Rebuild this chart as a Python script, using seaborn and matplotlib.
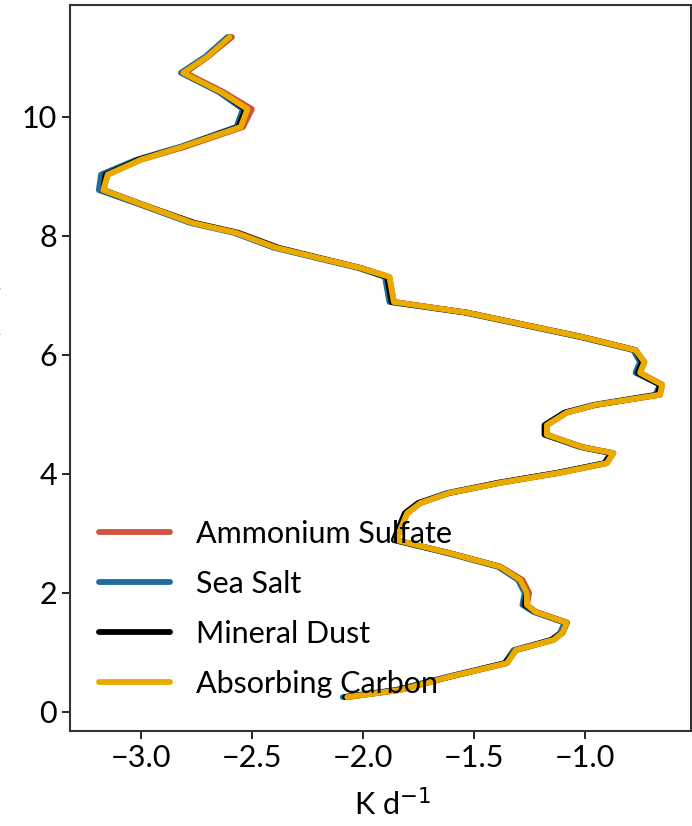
import numpy as np
import pandas as pd
import matplotlib
matplotlib.use('Agg')
import matplotlib.pyplot as plt
import seaborn as sns

# altitude levels (km)
altitude = [11.34, 11.01, 10.74, 10.42, 10.13, 9.83, 9.50, 9.28, 9.03, 8.77,
            8.52, 8.22, 8.05, 7.80, 7.46, 7.31, 6.89, 6.71, 6.30, 6.08,
            5.88, 5.70, 5.50, 5.33, 5.16, 5.03, 4.82, 4.66, 4.45, 4.35,
            4.18, 4.02, 3.85, 3.68, 3.51, 3.34, 2.89, 2.67, 2.44, 2.22,
            2.00, 1.80, 1.68, 1.50, 1.33, 1.21, 1.04, 0.82, 0.59, 0.37, 0.25]

# heating rates (K/day) for each aerosol type
ammonium_sulfate = [-2.59, -2.70, -2.80, -2.63, -2.50, -2.54, -2.80, -3.00, -3.15, -3.17,
                    -2.99, -2.77, -2.57, -2.39, -2.01, -1.88, -1.86, -1.53, -1.01, -0.77,
                    -0.73, -0.75, -0.65, -0.66, -0.95, -1.08, -1.17, -1.17, -1.01, -0.87,
                    -0.90, -1.11, -1.38, -1.61, -1.74, -1.80, -1.85, -1.61, -1.38, -1.28,
                    -1.25, -1.26, -1.22, -1.08, -1.10, -1.14, -1.31, -1.35, -1.61, -1.83, -2.07]
sea_salt = [-2.61, -2.71, -2.82, -2.65, -2.54, -2.57, -2.82, -3.02, -3.18, -3.19,
            -3.00, -2.78, -2.58, -2.40, -2.02, -1.90, -1.88, -1.54, -1.02, -0.78,
            -0.75, -0.77, -0.66, -0.68, -0.96, -1.09, -1.18, -1.18, -1.02, -0.88,
            -0.91, -1.12, -1.39, -1.62, -1.75, -1.81, -1.86, -1.62, -1.39, -1.30,
            -1.27, -1.28, -1.23, -1.09, -1.11, -1.15, -1.32, -1.36, -1.62, -1.85, -2.09]
mineral_dust = [-2.60, -2.70, -2.81, -2.64, -2.53, -2.56, -2.81, -3.01, -3.16, -3.17,
                -2.99, -2.76, -2.56, -2.38, -2.01, -1.89, -1.87, -1.53, -1.01, -0.77,
                -0.74, -0.76, -0.66, -0.67, -0.95, -1.09, -1.18, -1.18, -1.01, -0.88,
                -0.91, -1.12, -1.39, -1.61, -1.75, -1.81, -1.86, -1.61, -1.38, -1.29,
                -1.26, -1.27, -1.22, -1.08, -1.10, -1.15, -1.31, -1.36, -1.61, -1.84, -2.08]
absorbing_carbon = [-2.60, -2.70, -2.81, -2.64, -2.52, -2.55, -2.81, -3.00, -3.15, -3.17,
                    -2.99, -2.77, -2.57, -2.39, -2.01, -1.88, -1.86, -1.53, -1.01, -0.77,
                    -0.73, -0.75, -0.65, -0.66, -0.95, -1.08, -1.17, -1.17, -1.01, -0.87,
                    -0.90, -1.11, -1.38, -1.61, -1.74, -1.80, -1.85, -1.61, -1.38, -1.29,
                    -1.26, -1.26, -1.22, -1.08, -1.10, -1.14, -1.31, -1.35, -1.61, -1.83, -2.07]

species = ['Ammonium Sulfate', 'Sea Salt', 'Mineral Dust', 'Absorbing Carbon']
colors = ['#CC5540', '#1F6C9C', '#000000', '#EBAA00']

df = pd.DataFrame({
    'alt': altitude * 4,
    'rate': ammonium_sulfate + sea_salt + mineral_dust + absorbing_carbon,
    'species': np.repeat(species, len(altitude)),
})

sns.set_style('ticks')
plt.rcParams['font.family'] = ['Lato', 'DejaVu Sans']
plt.rcParams['font.size'] = 22
plt.rcParams['text.color'] = 'black'
plt.rcParams['axes.labelcolor'] = 'black'
plt.rcParams['xtick.color'] = 'black'
plt.rcParams['ytick.color'] = 'black'

fig = plt.figure(figsize=(6.92, 8.26), dpi=100)
ax = fig.add_axes([0.1012, 0.115, 0.8974, 0.879])

for name, col in zip(species, colors):
    sub = df[df['species'] == name]
    sns.lineplot(data=sub, x='rate', y='alt', sort=False, estimator=None,
                 color=col, lw=4.2, label=name, ax=ax)

ax.set_xlim(-3.32, -0.52)
ax.set_ylim(-0.32, 11.88)
ax.set_xticks([-3.0, -2.5, -2.0, -1.5, -1.0])
ax.set_yticks([0, 2, 4, 6, 8, 10])
ax.tick_params(labelsize=22, length=6, width=1.2, labelcolor='black')
for s in ax.spines.values():
    s.set_visible(True)
    s.set_color('#333333')
    s.set_linewidth(1.5)

# x label sits well below the tick labels in the reference
ax.set_xlabel('K d$^{-1}$', fontsize=22)
ax.xaxis.set_label_coords(0.52, -0.078)
ax.set_ylabel('Altitude (km)', fontsize=22)
ax.yaxis.set_label_coords(-0.11, 0.5)

leg = ax.legend(loc='lower left', bbox_to_anchor=(-0.006, 0.0), frameon=False,
                fontsize=22, handlelength=2.3, handletextpad=0.85,
                labelspacing=0.72, borderaxespad=0.68)
for h in leg.get_lines():
    h.set_linewidth(4.2)

fig.savefig('out.png', dpi=100)
